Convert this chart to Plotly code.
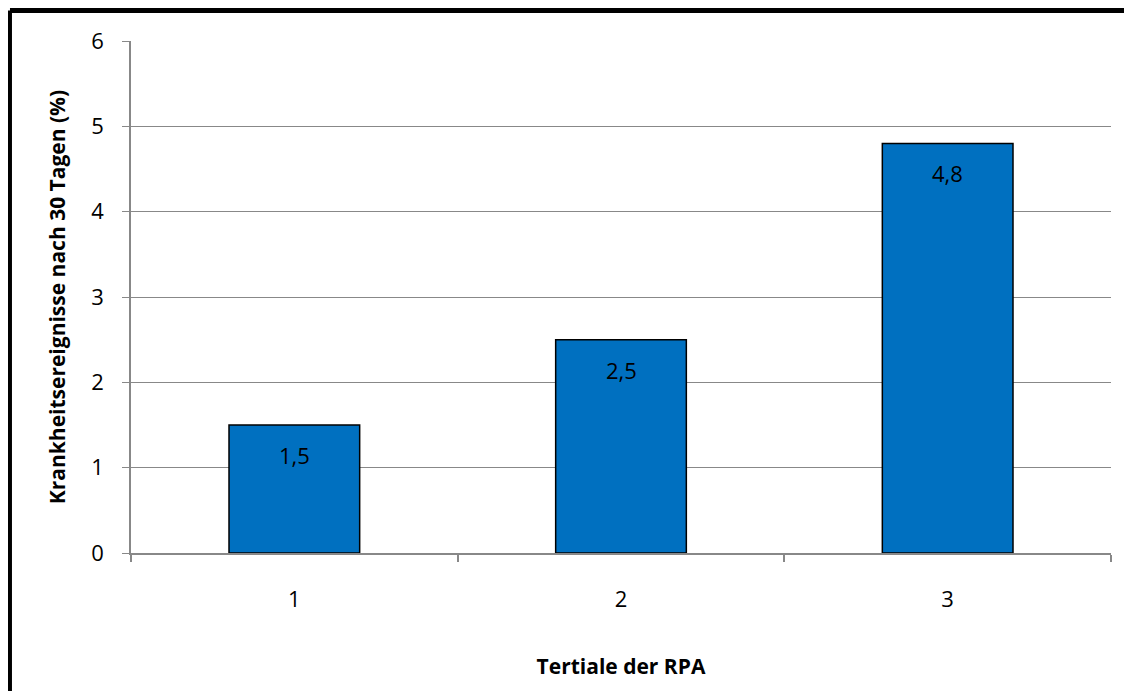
import plotly.graph_objects as go

categories = ["1", "2", "3"]
values = [1.5, 2.5, 4.8]
y_ticks = [0, 1, 2, 3, 4, 5, 6]

FONT = "Open Sans"
GRID = "#888888"

fig = go.Figure(go.Bar(
    x=categories, y=values,
    marker=dict(color="#0070C0", line=dict(color="#000000", width=1.5)),
    width=0.4,
))

for i, v in enumerate(values):
    fig.add_annotation(x=i, y=v, text=f"{v:.1f}".replace(".", ","), showarrow=False,
                       yshift=-30, font=dict(size=22, color="#000000", family=FONT))

# frame (top and left border)
fig.add_shape(type="line", xref="paper", yref="paper", x0=-0.1235, x1=1.1, y0=1.0596, y1=1.0596,
              line=dict(color="#000000", width=5))
fig.add_shape(type="line", xref="paper", yref="paper", x0=-0.1235, x1=-0.1235, y0=1.0596, y1=-0.3,
              line=dict(color="#000000", width=4))

fig.update_layout(
    width=1124, height=683,
    margin=dict(l=123, r=21, t=33, b=138),
    paper_bgcolor="white", plot_bgcolor="white",
    font=dict(family=FONT, color="#000000"),
    showlegend=False,
    xaxis=dict(
        type="category",
        range=[-0.5, 2.5],
        showline=True, linecolor=GRID, linewidth=2,
        ticks="outside", tickson="boundaries", ticklen=7, tickcolor=GRID, tickwidth=2,
        tickfont=dict(size=22, family=FONT),
        ticklabelstandoff=26,
        title=dict(text="<b>Tertiale der RPA</b>", font=dict(size=21, family=FONT), standoff=47),
        showgrid=False,
    ),
    yaxis=dict(
        range=[0, 6], tickvals=y_ticks,
        showline=True, linecolor=GRID, linewidth=1.5,
        ticks="outside", ticklen=7, tickcolor=GRID,
        tickfont=dict(size=22, family=FONT),
        ticklabelstandoff=14,
        showgrid=True, gridcolor=GRID, gridwidth=1,
        zeroline=False,
        title=dict(text="<b>Krankheitsereignisse nach 30 Tagen (%)</b>", font=dict(size=21, family=FONT), standoff=20),
    ),
)

fig.write_html("out.html")
